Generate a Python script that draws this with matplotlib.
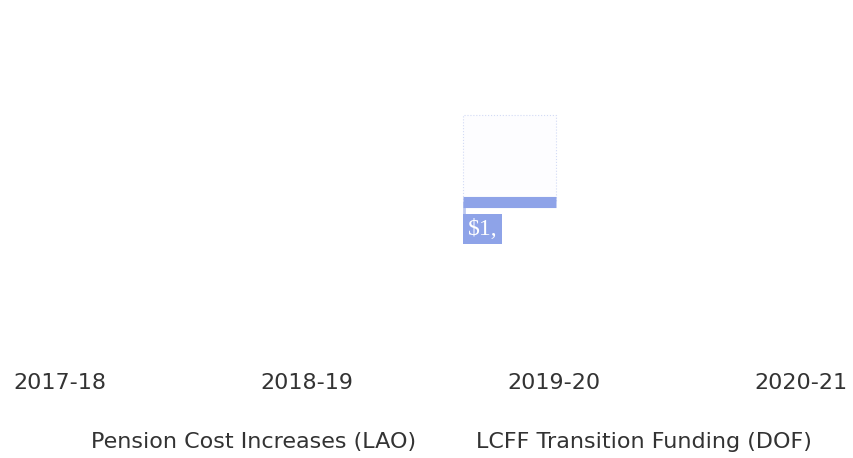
import matplotlib.pyplot as plt
import numpy as np

# Data (millions) - scan is washed out, only the 2019-20 bar is readable
years = ['2017-18', '2018-19', '2019-20', '2020-21']
lcff = [0, 0, 1100, 0]          # LCFF Transition Funding (DOF)
pension = [0, 0, 670, 0]        # Pension Cost Increases (LAO), stacked on top
value_labels = ['', '', '$1,', '']
series_names = ['Pension Cost Increases (LAO)', 'LCFF Transition Funding (DOF)']

blue = '#8ea3e8'
x = np.arange(len(years))
w = 0.376
off = -0.18

fig = plt.figure(figsize=(8.54, 4.58), dpi=100)
ax = fig.add_axes([0, 0.247, 1, 0.71])

for xi, v, p in zip(x, lcff, pension):
    if v <= 0:
        continue
    # LCFF bar: fill washed out in the scan, top band still solid
    ax.bar(xi + off, v, w, color='white', edgecolor='none')
    ax.hlines(v, xi + off - w / 2, xi + off + w / 2, color=blue, lw=8)
    ax.vlines(xi + off - w / 2 + 0.003, v - 300, v, color=blue, lw=2, alpha=0.6)
    # pension segment, nearly invisible
    ax.bar(xi + off, p, w, bottom=v, color='#fdfdff',
           edgecolor='#d3dbf5', linestyle=':', linewidth=0.8)

for xi, v, lab in zip(x, lcff, value_labels):
    if lab:
        ax.text(xi + off - w / 2 + 0.018, v - 210, lab, color='white', fontsize=17,
                family='Liberation Serif', va='center', ha='left',
                bbox=dict(boxstyle='square,pad=0.2', fc=blue, ec='none'))

ax.set_xlim(-0.243, 3.215)
ax.set_ylim(0, 2500)
ax.set_xticks(x)
ax.set_xticklabels(years, fontsize=16, color='#333333')
ax.tick_params(axis='x', length=0, pad=20)
ax.set_yticks([])
for s in ax.spines.values():
    s.set_visible(False)

fig.legend(
    [plt.Rectangle((0, 0), 1, 1, fc='white', ec='none')] * 2, series_names,
    loc='lower left', bbox_to_anchor=(0.036, -0.03), ncol=2, frameon=False,
    fontsize=16, labelcolor='#333333', handlelength=1.0, columnspacing=0.9)

fig.savefig('out.png', dpi=100, facecolor='white')
